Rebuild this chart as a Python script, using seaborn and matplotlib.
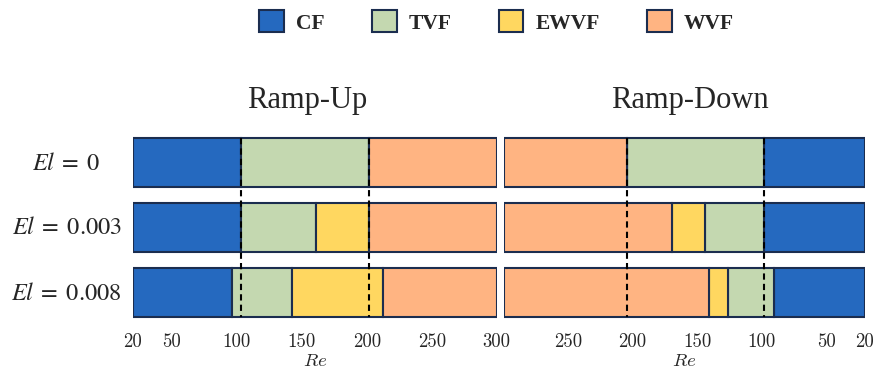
import numpy as np
import pandas as pd
import matplotlib
matplotlib.use("Agg")
import matplotlib.pyplot as plt
import matplotlib.transforms as mtransforms
from matplotlib.patches import Patch
import seaborn as sns

sns.set_theme(style="white")

# ---------------- data ----------------
rows = ["0", "0.003", "0.008"]
row_labels = [r"$El\;=\;0$", r"$El\;=\;0.003$", r"$El\;=\;0.008$"]
phases = ["CF", "TVF", "EWVF", "WVF"]
colors = ["#2569BF", "#C4D8B0", "#FFD760", "#FFB482"]
edge_color = "#1B2D4F"

re_min, re_max = 20, 300
re_ticks = [20, 50, 100, 150, 200, 250, 300]

# Ramp-up: Re where each regime ends (starting at Re = 20)
up_cf_end = [103.0, 103.0, 96.5]
up_tvf_end = [201.7, 161.0, 142.9]
up_ewvf_end = [201.7, 201.7, 212.8]
up_dashed = [103.0, 201.7]

# Ramp-down: Re where each regime ends (starting at Re = 300)
down_wvf_end = [204.3, 169.6, 140.6]
down_ewvf_end = [204.3, 143.7, 126.2]
down_tvf_end = [97.8, 98.1, 90.5]
down_dashed = [204.3, 97.8]

# ---------------- build tidy table ----------------
records = []
for i, el in enumerate(rows):
    up_bounds = [re_min, up_cf_end[i], up_tvf_end[i], up_ewvf_end[i], re_max]
    for j, ph in enumerate(phases):
        records.append(dict(panel="up", El=el, phase=ph,
                            lo=up_bounds[j], hi=up_bounds[j + 1]))
    # ramp down: CF (lowest Re) ... WVF (highest Re)
    dn_bounds = [re_min, down_tvf_end[i], down_ewvf_end[i], down_wvf_end[i], re_max]
    for j, ph in enumerate(phases):
        records.append(dict(panel="down", El=el, phase=ph,
                            lo=dn_bounds[j], hi=dn_bounds[j + 1]))
df = pd.DataFrame(records)
df["length"] = df["hi"] - df["lo"]

# ---------------- figure ----------------
W, H = 875, 371
fig = plt.figure(figsize=(W / 100, H / 100), dpi=100)
axL = fig.add_axes([132.7 / W, 46 / H, 364 / W, 195 / H])
axR = fig.add_axes([503.7 / W, 46 / H, 361 / W, 195 / H])

bar_w = 0.754
for ax, panel in [(axL, "up"), (axR, "down")]:
    for ph, col in zip(phases, colors):
        sub = df[(df.panel == panel) & (df.phase == ph)].set_index("El").loc[rows].reset_index()
        sns.barplot(data=sub, x="length", y="El", order=rows, orient="h",
                    left=sub["lo"].values, color=col, saturation=1,
                    width=bar_w, errorbar=None, edgecolor=edge_color,
                    linewidth=1.5, ax=ax, zorder=2)
    dashed = up_dashed if panel == "up" else down_dashed
    ax.vlines(dashed, -bar_w / 2, len(rows) - 1 + bar_w / 2, colors="black",
              linestyles=(0, (3, 2)), linewidth=1.5, zorder=5)
    ax.set_ylim(len(rows) - 0.5, -0.5)
    ax.set_yticks([])
    ax.set_ylabel("")
    ax.set_xticks(re_ticks)
    ax.tick_params(axis="x", length=0, pad=6)
    ax.set_xlabel(r"$Re$", fontsize=13.5, math_fontfamily="cm", labelpad=0)
    for s in ax.spines.values():
        s.set_visible(False)

axL.set_xlim(re_min, re_max)
axR.set_xlim(re_max, re_min)
# the two panels share the Re = 300 boundary: one label is shown there
axL.set_xticklabels([str(t) for t in re_ticks], family="cmr10", fontsize=13.5)
axR.set_xticklabels(["" if t == re_max else str(t) for t in re_ticks],
                    family="cmr10", fontsize=13.5)

axL.set_title("Ramp-Up", family="Liberation Serif", fontsize=22, pad=16, x=0.479)
axR.set_title("Ramp-Down", family="Liberation Serif", fontsize=22, pad=16, x=0.515)

# row labels
tr = mtransforms.blended_transform_factory(fig.transFigure, axL.transData)
for i, lab in enumerate(row_labels):
    fig.text(66.5 / W, i, lab, transform=tr, ha="center", va="center",
             fontsize=17.5, math_fontfamily="stix")

# legend
handles = [Patch(facecolor=c, edgecolor=edge_color, linewidth=1.5) for c in colors]
fig.legend(handles, phases, loc="center", bbox_to_anchor=(496.5 / W, 1 - 22 / H),
           ncol=4, frameon=False,
           prop=dict(family="Liberation Serif", weight="bold", size=15.5),
           handlelength=1.15, handleheight=1.2, handletextpad=0.55,
           columnspacing=2.2)

fig.savefig("out.png", dpi=100)
